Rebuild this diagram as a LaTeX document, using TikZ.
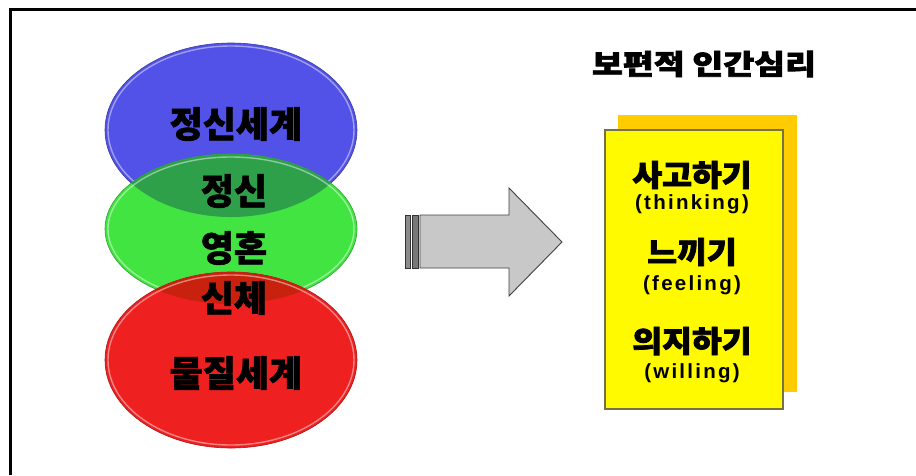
\documentclass[tikz,border=0pt]{standalone}
\usepackage{fontspec}
\newfontfamily\kr{Noto Sans CJK KR}[BoldFeatures={FakeBold=2.5}]
\newfontfamily\krh{Noto Sans CJK KR}[BoldFeatures={FakeBold=1.6}]
\setmainfont{Liberation Sans}
\definecolor{eblue}{RGB}{82,82,232}
\definecolor{egreen}{RGB}{66,228,66}
\definecolor{ered}{RGB}{238,32,32}
\definecolor{bgover}{RGB}{46,160,74}
\definecolor{grover}{RGB}{200,34,14}
\definecolor{boxy}{RGB}{255,250,0}
\definecolor{boxo}{RGB}{255,204,0}
\definecolor{arrowgray}{RGB}{200,200,200}
\tikzset{
  ktext/.style={font=\krh\bfseries\fontsize{36}{40}\selectfont, text=black},
  btext/.style={font=\kr\bfseries\fontsize{30}{34}\selectfont, text=black},
  etext/.style={font=\bfseries\fontsize{20.5}{24}\selectfont\addfontfeature{LetterSpace=11}, text=black},
  ttext/.style={font=\kr\bfseries\fontsize{28}{32}\selectfont, text=black},
  rim/.style={draw=white, draw opacity=0.45, line width=1.4pt},
}
\begin{document}
\begin{tikzpicture}[x=1pt,y=-1pt]
\useasboundingbox (0,0) rectangle (916,475);
\fill[white] (0,0) rectangle (916,475);
% frame
\draw[line width=3pt] (10.5,475) -- (10.5,9.5) -- (916,9.5);
% ellipses
\fill[eblue, draw=eblue!70!black, line width=0.6pt] (231,130) ellipse [x radius=126, y radius=87];
\draw[rim] (231,130) ellipse [x radius=123, y radius=84];
\fill[egreen, draw=egreen!70!black, line width=0.6pt] (231,229) ellipse [x radius=126, y radius=75];
\begin{scope}
  \clip (231,130) ellipse [x radius=126, y radius=87];
  \fill[bgover] (231,229) ellipse [x radius=126, y radius=75];
\end{scope}
\draw[rim] (231,229) ellipse [x radius=123, y radius=72];
\fill[ered, draw=ered!70!black, line width=0.6pt] (231,360) ellipse [x radius=126, y radius=88];
\begin{scope}
  \clip (231,229) ellipse [x radius=126, y radius=75];
  \fill[grover] (231,360) ellipse [x radius=126, y radius=88];
\end{scope}
\draw[rim] (231,360) ellipse [x radius=123, y radius=85];
\node[ktext] (w1) at (236,124) {정신세계};
\node[ktext] (s1) at (234,191) {정신};
\node[ktext] (s2) at (234,248) {영혼};
\node[ktext] (s3) at (234,298) {신체};
\node[ktext] (w2) at (236,373) {물질세계};
% arrow
\fill[arrowgray!70!black, draw=black!80, line width=0.9pt] (405,215) rectangle (410,268);
\fill[arrowgray!60!black, draw=black!80, line width=0.9pt] (412,215) rectangle (418,268);
\fill[arrowgray, draw=black!75, line width=0.9pt]
  (420,215) -- (509,215) -- (509,188) -- (562,242) -- (509,296) -- (509,268) -- (420,268) -- cycle;
% title
\node[ttext] (title) at (704,64) {\scalebox{1.2}[1]{보편적 인간심리}};
% box
\fill[boxo] (618,115) rectangle (797,392);
\fill[boxy, draw=black!45!yellow!70!black, line width=1.2pt] (605,130) rectangle (783,409);
\node[btext] (k1) at (692,175) {\scalebox{1.08}[1]{사고하기}};
\node[etext] (e1) at (692,204) {(thinking)};
\node[btext] (k2) at (692,252) {\scalebox{1.08}[1]{느끼기}};
\node[etext] (e2) at (692,285) {(feeling)};
\node[btext] (k3) at (692,341) {\scalebox{1.08}[1]{의지하기}};
\node[etext] (e3) at (692,373) {(willing)};
\end{tikzpicture}
\end{document}
